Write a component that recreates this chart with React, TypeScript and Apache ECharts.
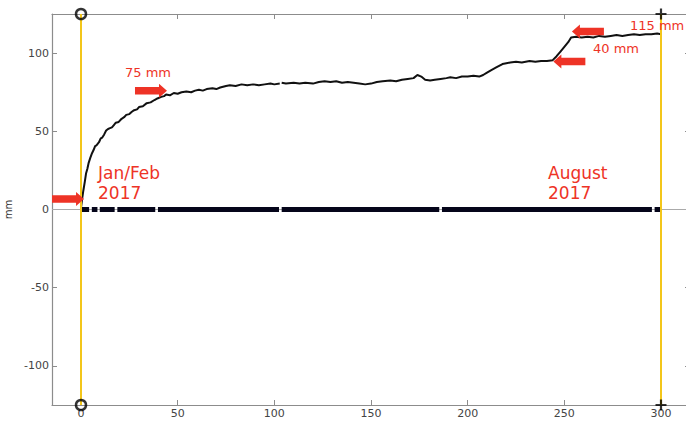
import React, { useEffect, useRef } from "react";
import * as echarts from "echarts";

const xRange = [-15, 315];
const yRange = [-125, 125];
const xTicks = [0, 50, 100, 150, 200, 250, 300];
const yTicks = [-100, -50, 0, 50, 100];

// displacement curve (x = day index, y = mm)
const curveX = [
  0, 0.5, 1.2, 2, 2.6, 3.3, 4, 4.8, 5.7, 6.5, 7.3, 8, 9.3, 10.2, 11, 12, 13, 14, 15, 16, 17, 18, 19.5, 21,
  22.3, 23.4, 25, 26.3, 27.5, 29, 30, 32, 34, 36, 38, 39.5, 41.5, 43, 44, 46, 48, 50, 52, 54.5, 57, 59, 61,
  63, 65, 68, 70, 72, 75, 77, 80, 83, 86, 89, 92, 95, 98, 100, 102.8, 103.8, 106, 110, 113, 116, 120, 123,
  126, 129, 132, 135, 138, 141, 144, 147, 150, 153, 156, 160, 163, 166, 169, 172, 174, 176, 178, 180.6, 183,
  186, 189, 191, 194, 197, 200, 203, 206, 208, 210, 212, 215, 218, 220, 222, 225, 228, 232, 235, 238, 241,
  244, 246, 248, 250, 252, 253.5, 256, 259, 262, 265, 268, 271, 274, 277, 280, 283, 286, 289, 292, 295, 298, 300,
];
const curveY = [
  1, 6, 12, 18, 23, 26, 30, 33, 36, 38, 40.5, 41, 43, 45.5, 46, 48, 50.5, 51.5, 52, 52.5, 54, 55.5, 56, 58,
  59, 60.5, 61, 62.5, 63.5, 64, 65.5, 66, 68, 68.5, 70, 71, 72, 72.5, 73.5, 73, 74.5, 74, 75, 75.5, 75, 76, 76.5,
  76, 77, 77.5, 77, 78, 79, 79.5, 79, 80, 79.5, 80, 79.5, 80, 80.5, 80, 80.5, 81, 80.5, 81, 80.5, 81, 80.5, 81.5,
  82, 81.5, 82, 81, 81.5, 81, 80.5, 80, 80.5, 81.5, 82, 82.5, 82, 83, 83.5, 84, 86, 85, 83, 82.5, 83,
  83.5, 84, 84.5, 84, 85, 85, 85.5, 85, 86, 87.5, 89, 91, 93, 93.5, 94, 94.5, 94, 95, 94.5, 95, 95,
  95.5, 98, 101, 104, 107, 110, 110.5, 110, 110.5, 110, 111, 110.5, 111, 111.5, 111, 111.5, 112, 111.5, 112, 112, 112.5, 112,
];
const curveBreakAfter = [102.8];

// thick zero line segments (start, end)
const zeroSegments = [
  [0, 4.2], [5.6, 8.5], [9.7, 17.4], [18.8, 38.4], [39.8, 102.4], [103.8, 185.3], [186.7, 295.3], [296.7, 300],
];

const startDay = 0;
const endDay = 300;

// arrows: [x, y]
const arrowsRight = [
  [-6.7, 6.7],
  [36.2, 75.9],
];
const arrowsLeft = [
  [262.2, 113.8],
  [252.6, 94.6],
];

const RED = "#ee3326";

export default function App() {
  const ref = useRef<HTMLDivElement>(null);
  useEffect(() => {
    const chart = echarts.init(ref.current!, null, { renderer: "svg" });

    const curveData: any[] = [];
    curveX.forEach((x, i) => {
      curveData.push([x, curveY[i]]);
      if (curveBreakAfter.includes(x)) curveData.push([x + 0.5, "-"]);
    });
    const zeroData: any[] = [];
    zeroSegments.forEach(([a, b]) => {
      zeroData.push([a, 0]);
      zeroData.push([b, 0]);
      zeroData.push([b + 0.1, "-"]);
    });

    const arrowPath = "path://M0,3.5 L24,3.5 L24,0 L32,7.5 L24,15 L24,11.5 L0,11.5 Z";
    const axisColor = "#8c8c8c";
    const labelStyle = { color: "#444", fontSize: 11, fontFamily: "DejaVu Sans", margin: 3 };

    const xBase = {
      type: "value",
      min: xRange[0],
      max: xRange[1],
      splitLine: { show: false },
      axisLine: { onZero: false, lineStyle: { color: axisColor, width: 1.2 } },
      axisTick: { inside: true, length: 5, customValues: xTicks, lineStyle: { color: axisColor } },
    };
    const yBase = {
      type: "value",
      min: yRange[0],
      max: yRange[1],
      splitLine: { show: false },
      axisLine: { onZero: false, lineStyle: { color: axisColor, width: 1.2 } },
      axisTick: { inside: true, length: 5, customValues: yTicks, lineStyle: { color: axisColor } },
    };

    chart.setOption({
      animation: false,
      backgroundColor: "#fff",
      grid: { left: 52, top: 14, width: 638, height: 391, containLabel: false, outerBoundsMode: "none" },
      xAxis: [
        { ...xBase, position: "bottom", axisLabel: { ...labelStyle, customValues: xTicks } },
        { ...xBase, position: "top", axisLabel: { show: false } },
      ],
      yAxis: [
        {
          ...yBase,
          position: "left",
          name: "mm",
          nameLocation: "middle",
          nameGap: 34,
          nameTextStyle: { color: "#333", fontSize: 10, fontFamily: "DejaVu Sans" },
          axisLabel: { ...labelStyle, customValues: yTicks },
        },
        { ...yBase, position: "right", axisLabel: { show: false } },
      ],
      series: [
        {
          type: "line",
          data: [[xRange[0], 0], [xRange[1], 0]],
          symbol: "none",
          lineStyle: { color: "#aaa", width: 1 },
          z: 1,
          silent: true,
          markLine: {
            symbol: "none",
            silent: true,
            label: { show: false },
            lineStyle: { color: "#f3c61a", width: 2, type: "solid" },
            data: [{ xAxis: startDay }, { xAxis: endDay }],
          },
        },
        {
          type: "line",
          data: zeroData,
          symbol: "none",
          connectNulls: false,
          lineStyle: { color: "#05051a", width: 5, cap: "butt" },
          z: 3,
          silent: true,
        },
        {
          type: "line",
          data: curveData,
          symbol: "none",
          connectNulls: false,
          lineStyle: { color: "#111", width: 2 },
          z: 4,
          silent: true,
          markPoint: {
            silent: true,
            symbol: arrowPath,
            symbolSize: [32, 14],
            label: { show: false },
            itemStyle: { color: RED },
            data: [
              ...arrowsRight.map(([x, y]) => ({ coord: [x, y], symbolRotate: 0 })),
              ...arrowsLeft.map(([x, y]) => ({ coord: [x, y], symbolRotate: 180 })),
            ],
          },
        },
        {
          type: "scatter",
          data: [[startDay, yRange[1]], [startDay, yRange[0]]],
          symbol: "circle",
          symbolSize: 10,
          clip: false,
          itemStyle: { color: "rgba(255,255,255,0)", borderColor: "#000", borderWidth: 2.5 },
          z: 6,
          silent: true,
        },
        {
          type: "scatter",
          data: [[endDay, yRange[1]], [endDay, yRange[0]]],
          symbol: "path://M4,0 L6,0 L6,4 L10,4 L10,6 L6,6 L6,10 L4,10 L4,6 L0,6 L0,4 L4,4 Z",
          symbolSize: 11,
          clip: false,
          itemStyle: { color: "#000" },
          z: 6,
          silent: true,
        },
      ],
      graphic: [
        { type: "text", x: 125, y: 66, z: 10, style: { text: "75 mm", fill: RED, fontSize: 13, fontFamily: "DejaVu Sans" } },
        {
          type: "text", x: 98, y: 163, z: 10,
          style: { text: "Jan/Feb\n2017", fill: RED, fontSize: 17, lineHeight: 20, fontFamily: "DejaVu Sans" },
        },
        {
          type: "text", x: 548, y: 163, z: 10,
          style: { text: "August\n2017", fill: RED, fontSize: 17, lineHeight: 20, fontFamily: "DejaVu Sans" },
        },
        { type: "text", x: 630, y: 19, z: 10, style: { text: "115 mm", fill: RED, fontSize: 13, fontFamily: "DejaVu Sans" } },
        { type: "text", x: 593, y: 42, z: 10, style: { text: "40 mm", fill: RED, fontSize: 13, fontFamily: "DejaVu Sans" } },
      ],
    });
    return () => chart.dispose();
  }, []);
  return <div ref={ref} style={{ position: "absolute", left: 0, top: 0, width: 686, height: 423 }} />;
}
